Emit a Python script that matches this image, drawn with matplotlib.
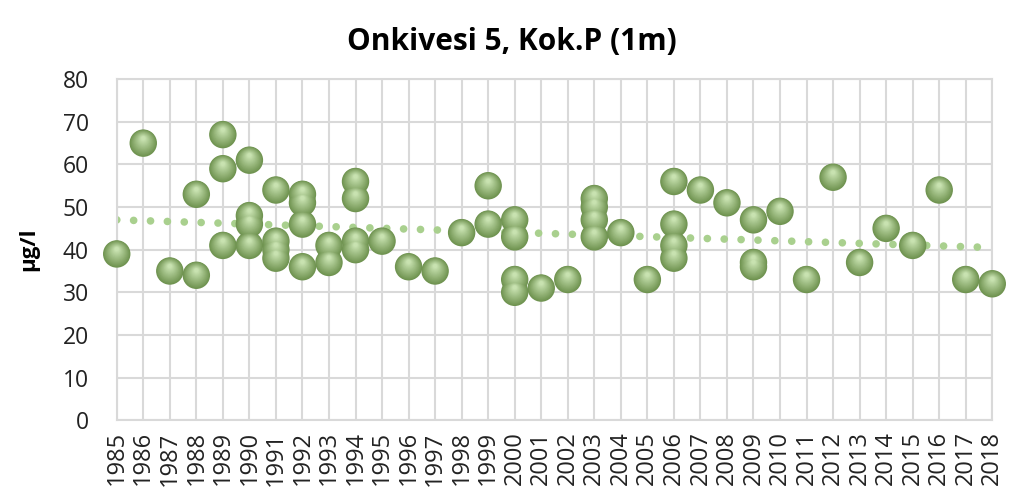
import matplotlib
matplotlib.use("Agg")
import matplotlib.pyplot as plt
import matplotlib.transforms as mtransforms
import numpy as np

plt.rcParams['font.family'] = ['Open Sans', 'DejaVu Sans']

title = "Onkivesi 5, Kok.P (1m)"
ylabel = "µg/l"
years = list(range(1985, 2019))

obs_years = [1985, 1986, 1987, 1988, 1988,
             1989, 1989, 1989,
             1990, 1990, 1990, 1990,
             1991, 1991, 1991, 1991,
             1992, 1992, 1992, 1992,
             1993, 1993,
             1994, 1994, 1994, 1994,
             1995, 1996, 1997, 1998,
             1999, 1999,
             2000, 2000, 2000, 2000,
             2001, 2002,
             2003, 2003, 2003, 2003,
             2004, 2005,
             2006, 2006, 2006, 2006,
             2007, 2008,
             2009, 2009, 2009,
             2010, 2011, 2012, 2013, 2014, 2015, 2016, 2017, 2018]
obs_values = [39, 65, 35, 53, 34,
              67, 59, 41,
              61, 48, 46, 41,
              54, 42, 40, 38,
              53, 51, 46, 36,
              41, 37,
              56, 52, 42, 40,
              42, 36, 35, 44,
              55, 46,
              47, 43, 33, 30,
              31, 33,
              52, 50, 47, 43,
              44, 33,
              56, 46, 41, 38,
              54, 51,
              47, 37, 36,
              49, 33, 57, 37, 45, 41, 54, 33, 32]

trend_years = [1985, 2018]
trend_values = [47.0, 40.5]

fig = plt.figure(figsize=(10.24, 4.92), dpi=100)
ax = fig.add_axes([0.114, 0.146, 0.855, 0.693])

ax.set_xlim(1985, 2018)
ax.set_ylim(0, 80)
ax.set_xticks(years)
ax.set_xticklabels([str(y) for y in years], rotation=90, fontsize=17)
ax.set_yticks(range(0, 81, 10))
ax.tick_params(axis='y', labelsize=16.5, length=0, pad=20, labelcolor='#222222')
ax.tick_params(axis='x', length=0, pad=8, labelcolor='#222222')
ax.grid(True, color='#d9d9d9', linewidth=1.5)
ax.set_axisbelow(True)
for s in ax.spines.values():
    s.set_color('#d9d9d9')
    s.set_linewidth(1.5)

# trendline
ax.plot(trend_years, trend_values, linestyle=(0, (0.01, 2.2)), dash_capstyle='round',
        linewidth=5.5, color='#a9d08e', zorder=2)

# spheres built from stacked discs
c_out = np.array([0x6f, 0x93, 0x50]) / 255
c_in = np.array([0xc8, 0xe2, 0xb0]) / 255
n = 16
base = 390
for i in range(n):
    t = i / (n - 1)
    frac = 1.0 - 0.85 * t
    col = c_out * (1 - t) + c_in * t
    tr = mtransforms.offset_copy(ax.transData, fig=fig, x=0, y=3.5 * t, units='points')
    ax.scatter(obs_years, obs_values, s=base * frac ** 2, color=col, edgecolors='none',
               zorder=3, clip_on=False, transform=tr)

fig.suptitle(title, x=0.5, y=0.945, fontsize=21.5, fontweight='bold', va='top')
ax.set_ylabel(ylabel, fontsize=16, fontweight='bold')
ax.yaxis.set_label_coords(-0.088, 0.5)

fig.savefig("out.png", dpi=100)
